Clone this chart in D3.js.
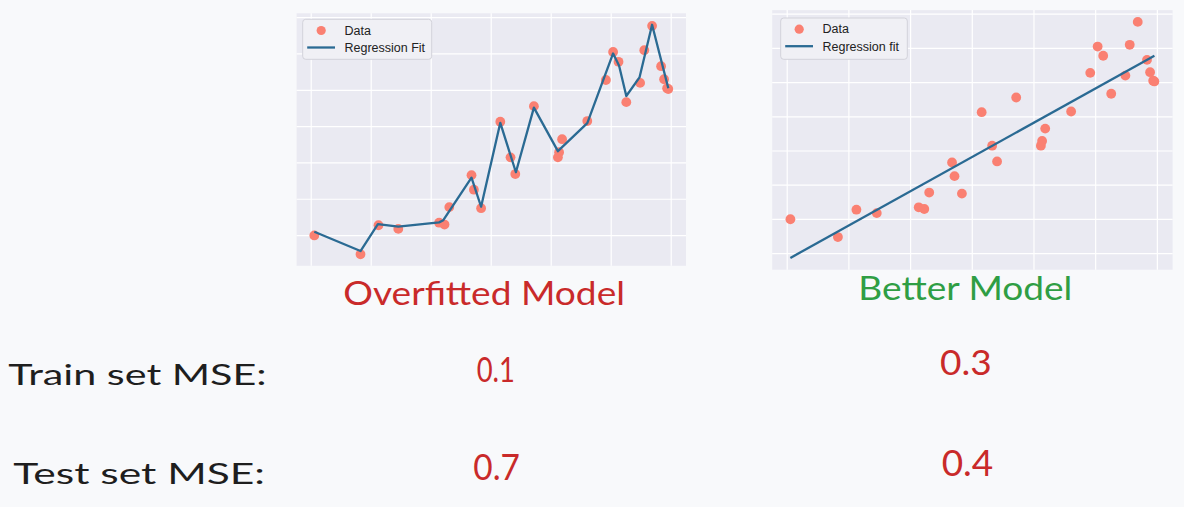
<!DOCTYPE html>
<html>
<head>
<meta charset="utf-8">
<script src="https://cdn.jsdelivr.net/npm/d3@7"></script>
<style>
  html, body { margin: 0; padding: 0; background: #f8f9fb; }
  svg { display: block; }
  .hand { font-family: "Lato", "Noto Sans", "DejaVu Sans", sans-serif; font-weight: 400; }
  .leg { font-family: "Liberation Sans", Arial, sans-serif; font-size: 12.5px; fill: #222; }
</style>
</head>
<body>
<svg id="chart" width="1184" height="507"></svg>
<script>
// ---- data ----
const dataX = [0.06, 0.83, 1.13, 1.46, 2.14, 2.23, 2.31, 2.68, 2.72, 2.84, 3.16, 3.33, 3.41, 3.72, 4.12, 4.14, 4.19, 4.61, 4.92, 5.04, 5.13, 5.26, 5.49, 5.56, 5.69, 5.84, 5.89, 5.94, 5.96];
const dataY = [-0.01, -0.53, 0.27, 0.17, 0.34, 0.29, 0.77, 1.65, 1.25, 0.74, 3.12, 2.14, 1.68, 3.55, 2.14, 2.28, 2.64, 3.14, 4.27, 5.04, 4.77, 3.66, 4.19, 5.09, 5.76, 4.65, 4.29, 4.04, 4.02];
const overfitX = [0.06, 0.83, 1.12, 1.46, 2.14, 2.21, 2.68, 2.84, 3.16, 3.42, 3.72, 4.12, 4.61, 5.04, 5.14, 5.26, 5.48, 5.69, 5.96];
const overfitY = [0.09, -0.44, 0.30, 0.23, 0.35, 0.41, 1.58, 0.78, 3.09, 1.73, 3.51, 2.31, 3.08, 5.00, 4.66, 3.83, 4.34, 5.79, 4.04];
const betterFitX = [0.06, 5.96];
const betterFitY = [-1.14, 4.77];
const titles = ["Overfitted Model", "Better Model"];
const legendLabels = [["Data", "Regression Fit"], ["Data", "Regression fit"]];
const rowLabels = ["Train set MSE:", "Test set MSE:"];
const trainMSE = ["0.1", "0.3"];
const testMSE = ["0.7", "0.4"];

// ---- styles ----
const svg = d3.select("#chart");
const plotBg = "#eaeaf2";
const pointColor = "#fa8072";
const lineColor = "#2a6a93";
const red = "#c92a2a", green = "#2f9e44", ink = "#1e1e1e";

function padDomain(vals) {
  const [a, b] = d3.extent(vals);
  const p = (b - a) * 0.05;
  return [a - p, b + p];
}

const panels = [
  { box: [296.6, 13.3, 686, 265.8], fitX: overfitX, fitY: overfitY, legend: [302.7, 19.3, 431.7, 59.3], labels: legendLabels[0] },
  { box: [772.2, 10.1, 1172.6, 269.7], fitX: betterFitX, fitY: betterFitY, legend: [780.7, 18, 907.3, 59.3], labels: legendLabels[1] }
];

panels.forEach(p => {
  const [x0, y0, x1, y1] = p.box;
  const xs = d3.scaleLinear().domain(padDomain(dataX.concat(p.fitX))).range([x0, x1]);
  const ys = d3.scaleLinear().domain(padDomain(dataY.concat(p.fitY))).range([y1, y0]);
  const g = svg.append("g");
  g.append("rect").attr("x", x0).attr("y", y0).attr("width", x1 - x0).attr("height", y1 - y0).attr("fill", plotBg);

  const gx = g.append("g").attr("transform", `translate(0,${y1})`)
    .call(d3.axisBottom(xs).ticks(7).tickSize(-(y1 - y0)).tickFormat(""));
  const gy = g.append("g").attr("transform", `translate(${x0},0)`)
    .call(d3.axisLeft(ys).ticks(8).tickSize(-(x1 - x0)).tickFormat(""));
  [gx, gy].forEach(a => {
    a.select(".domain").remove();
    a.selectAll(".tick line").attr("stroke", "#ffffff").attr("stroke-width", 1.2);
  });

  g.selectAll("circle.pt").data(dataX.map((x, i) => [x, dataY[i]])).enter()
    .append("circle").attr("class", "pt")
    .attr("cx", d => xs(d[0])).attr("cy", d => ys(d[1])).attr("r", 4.9)
    .attr("fill", pointColor);

  const line = d3.line().x(d => xs(d[0])).y(d => ys(d[1]));
  g.append("path").datum(p.fitX.map((x, i) => [x, p.fitY[i]]))
    .attr("d", line).attr("fill", "none").attr("stroke", lineColor)
    .attr("stroke-width", 2.3).attr("stroke-linejoin", "round");

  // legend
  const [lx0, ly0, lx1, ly1] = p.legend;
  g.append("rect").attr("x", lx0).attr("y", ly0).attr("width", lx1 - lx0).attr("height", ly1 - ly0)
    .attr("rx", 3).attr("fill", "#f0f0f5").attr("stroke", "#d2d2da").attr("stroke-width", 1);
  g.append("circle").attr("cx", lx0 + 18.5).attr("cy", ly0 + 11.2).attr("r", 4.6).attr("fill", pointColor);
  g.append("line").attr("x1", lx0 + 4.5).attr("x2", lx0 + 32.3)
    .attr("y1", ly0 + 28.2).attr("y2", ly0 + 28.2).attr("stroke", lineColor).attr("stroke-width", 2.3);
  g.append("text").attr("class", "leg").attr("x", lx0 + 41.8).attr("y", ly0 + 15.2).text(p.labels[0]);
  g.append("text").attr("class", "leg").attr("x", lx0 + 41.8).attr("y", ly0 + 32.6).text(p.labels[1]);
});

// ---- handwritten-style labels ----
function hand(txt, x, y, w, size, color) {
  svg.append("text").attr("class", "hand").attr("x", x).attr("y", y)
    .attr("font-size", size).attr("fill", color)
    .attr("textLength", w).attr("lengthAdjust", "spacingAndGlyphs").text(txt);
}
hand(titles[0], 343.3, 305, 281.7, 32, red);
hand(titles[1], 858.3, 300, 214, 33, green);
hand(rowLabels[0], 8.3, 385, 258.4, 28, ink);
hand(rowLabels[1], 13.3, 484.3, 251.7, 28, ink);
hand(trainMSE[0], 476.7, 382.3, 38.3, 35, red);
hand(trainMSE[1], 940, 375, 51.7, 35, red);
hand(testMSE[0], 473.3, 480, 46.7, 36, red);
hand(testMSE[1], 941.7, 475.7, 51.6, 36, red);
</script>
</body>
</html>
